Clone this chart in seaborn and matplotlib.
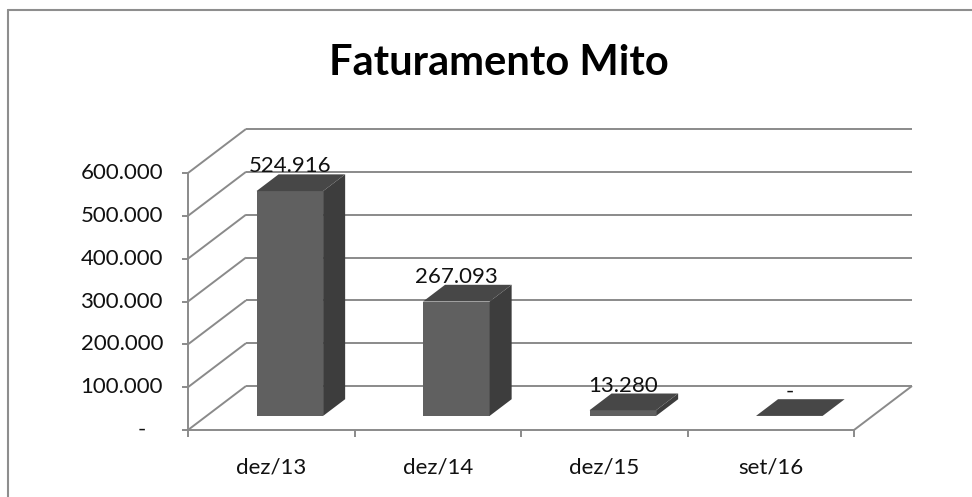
import matplotlib
matplotlib.use("Agg")
import matplotlib.pyplot as plt
from matplotlib.patches import Polygon
from matplotlib.lines import Line2D
import seaborn as sns

# data
categories = ["dez/13", "dez/14", "dez/15", "set/16"]
values = [524916, 267093, 13280, 0]
y_ticks = [0, 100000, 200000, 300000, 400000, 500000, 600000]
title = "Faturamento Mito"

FRONT = "#606060"
TOP = "#474747"
SIDE = "#3d3d3d"
GRID = "#8a8a8a"

sns.set_theme(style="white")
plt.rcParams["font.family"] = ["Lato", "DejaVu Sans"]

W, H = 972, 497
fig = plt.figure(figsize=(W / 100, H / 100), dpi=100)
ax = fig.add_axes([0, 0, 1, 1])

# pixel scales of the fake 3d box
px_cat = 166.5                 # px per category
px_val = 257 / 600000          # px per value unit
x0_px, y0_px = 188, 430        # front-left corner (value 0) in image px
DX = 58 / px_cat               # depth offset in category units
DY = 44 / px_val               # depth offset in value units
D0, D1 = 0.32, 0.70            # bar depth span

def fmt(v):
    return "-" if v == 0 else f"{v:,.0f}".replace(",", ".")

# front faces from seaborn
sns.barplot(x=categories, y=values, width=0.4, color=FRONT, saturation=1,
            edgecolor="none", linewidth=0, ax=ax, zorder=3)

ax.set_xlim(-0.5 - x0_px / px_cat, -0.5 + (W - x0_px) / px_cat)
ax.set_ylim(-(H - y0_px) / px_val, y0_px / px_val)
ax.axis("off")

gl = dict(color=GRID, lw=1.4, zorder=1, solid_capstyle="butt")
n = len(categories)
left, right = -0.5, n - 0.5

# back wall + left wall gridlines
for t in y_ticks:
    ax.plot([left + DX, right + DX], [t + DY, t + DY], **gl)
    ax.plot([left, left + DX], [t, t + DY], **gl)
# floor
ax.plot([left, right], [0, 0], **gl)
ax.plot([right, right + DX], [0, DY], **gl)
ax.plot([left, left], [0, y_ticks[-1]], **gl)

# ticks
for t in y_ticks:
    ax.plot([left - 6 / px_cat, left], [t, t], **gl)
    ax.text(left - 25 / px_cat, t, fmt(t) if t else "-   ", ha="right",
            va="center", fontsize=16, color="#111111")
for i in range(n + 1):
    ax.plot([left + i, left + i], [0, -7 / px_val], **gl)

# top and side faces, labels
for rect, v, cat in zip(ax.patches, values, categories):
    x, w = rect.get_x(), rect.get_width()
    rect.set_x(x + D0 * DX)
    rect.set_y(D0 * DY)
    xl, xr = x + D0 * DX, x + w + D0 * DX
    top = [(xl, v + D0 * DY), (xr, v + D0 * DY),
           (xr + (D1 - D0) * DX, v + D1 * DY), (xl + (D1 - D0) * DX, v + D1 * DY)]
    side = [(xr, D0 * DY), (xr + (D1 - D0) * DX, D1 * DY),
            (xr + (D1 - D0) * DX, v + D1 * DY), (xr, v + D0 * DY)]
    ax.add_patch(Polygon(side, closed=True, fc=SIDE, ec="none", zorder=3))
    ax.add_patch(Polygon(top, closed=True, fc=TOP, ec="none", zorder=3))
    cx = x + w / 2
    ax.text(cx + D0 * DX, v + D1 * DY + 2 / px_val, fmt(v), ha="center",
            va="baseline", fontsize=16, color="#111111", zorder=5)
    ax.text(cx, -44 / px_val, cat, ha="center", va="baseline",
            fontsize=16, color="#111111")

# title
fig.text(498.5 / W, 1 - 75 / H, title, ha="center", va="baseline",
         fontsize=30, fontweight="bold", color="black")

# chart border (only top/left visible)
bc = dict(color="#8e8e8e", lw=1.5, transform=None)
fig.add_artist(Line2D([8, 8], [0, H - 10], **bc))
fig.add_artist(Line2D([8, W], [H - 10, H - 10], **bc))

fig.savefig("out.png", dpi=100)
